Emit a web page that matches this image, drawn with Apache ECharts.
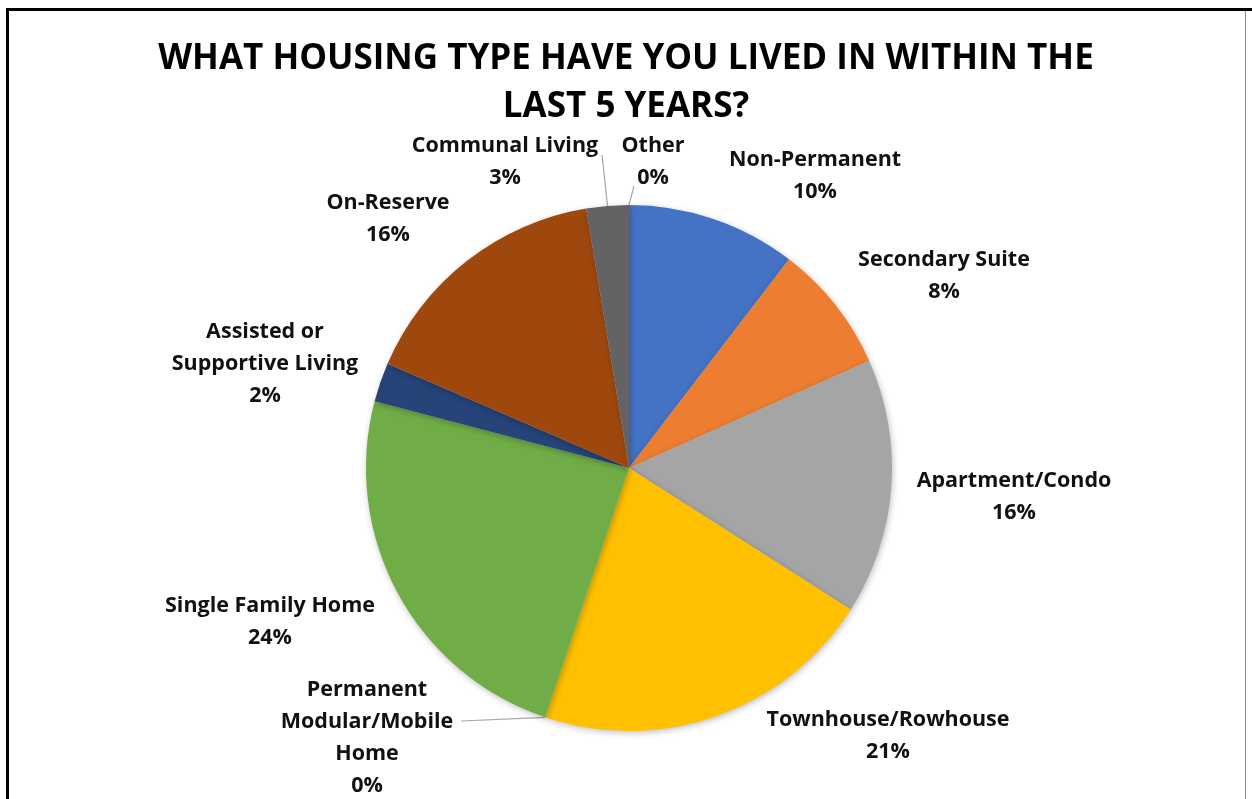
<!DOCTYPE html>
<html>
<head>
<meta charset="utf-8">
<title>Housing type</title>
<script src="https://cdn.jsdelivr.net/npm/echarts@6/dist/echarts.min.js"></script>
<style>
  html, body { margin: 0; padding: 0; background: #fff; }
  #chart { width: 1252px; height: 799px; }
</style>
</head>
<body>
<div id="chart"></div>
<script>
  // categories, clockwise from 12 o'clock
  var categories = ['Non-Permanent', 'Secondary Suite', 'Apartment/Condo', 'Townhouse/Rowhouse',
    'Permanent\nModular/Mobile\nHome', 'Single Family Home', 'Assisted or\nSupportive Living',
    'On-Reserve', 'Communal Living', 'Other'];
  // share of respondents (%)
  var values = [10.4, 7.9, 15.7, 21.1, 0, 23.9, 2.4, 15.9, 2.6, 0];
  var colors = ['#4472C4', '#ED7D31', '#A5A5A5', '#FFC000', '#5B9BD5',
    '#70AD47', '#264478', '#9E480E', '#636363', '#997300'];

  // where each label sits (centre of text block) and where its leader line ends
  var labelPos = [[815, 176], [944, 276], [1014, 497], [888, 736], [367, 738],
    [270, 622], [265, 364], [388, 219], [505, 162], [653, 162]];
  var lineEnd = { 4: [461, 721], 8: [602, 155], 9: [634, 186] };

  var cx = 629, cy = 468, R = 263;
  var total = values.reduce(function (a, b) { return a + b; }, 0);
  var midAngles = [];
  var acc = 0;
  values.forEach(function (v) {
    midAngles.push((acc + v / 2) / total * Math.PI * 2);
    acc += v;
  });

  var chart = echarts.init(document.getElementById('chart'));
  chart.setOption({
    animation: false,
    title: {
      text: 'WHAT HOUSING TYPE HAVE YOU LIVED IN WITHIN THE\nLAST 5 YEARS?',
      left: 'center',
      top: 35,
      padding: 0,
      textStyle: {
        fontFamily: 'Open Sans',
        fontWeight: 'bold',
        fontSize: 35,
        lineHeight: 48,
        color: '#000'
      }
    },
    graphic: [
      { type: 'rect', shape: { x: 6, y: 8, width: 1246, height: 3 }, style: { fill: '#000' } },
      { type: 'rect', shape: { x: 6, y: 8, width: 3, height: 791 }, style: { fill: '#000' } },
      { type: 'rect', shape: { x: 1245, y: 11, width: 1, height: 788 }, style: { fill: '#888' } }
    ],
    series: [{
      type: 'pie',
      center: [cx, cy],
      radius: R,
      startAngle: 90,
      clockwise: true,
      avoidLabelOverlap: false,
      itemStyle: {
        shadowBlur: 6,
        shadowOffsetX: 1,
        shadowOffsetY: 2,
        shadowColor: 'rgba(0,0,0,0.25)'
      },
      label: {
        show: true,
        position: 'outside',
        fontFamily: 'Open Sans',
        fontWeight: 'bold',
        fontSize: 21.5,
        lineHeight: 32,
        color: '#111',
        align: 'center',
        formatter: function (p) {
          return p.name + '\n' + Math.round(p.percent) + '%';
        }
      },
      labelLine: {
        show: false,
        lineStyle: { color: '#A6A6A6', width: 1.2 }
      },
      labelLayout: function (p) {
        var i = p.dataIndex;
        var out = {
          x: labelPos[i][0],
          y: labelPos[i][1],
          align: 'center',
          verticalAlign: 'middle'
        };
        if (lineEnd[i]) {
          var a = midAngles[i];
          out.labelLinePoints = [
            [cx + R * Math.sin(a), cy - R * Math.cos(a)],
            lineEnd[i],
            lineEnd[i]
          ];
        }
        return out;
      },
      data: categories.map(function (name, i) {
        return {
          name: name,
          value: values[i],
          itemStyle: { color: colors[i] },
          labelLine: { show: !!lineEnd[i] }
        };
      })
    }]
  });
</script>
</body>
</html>
